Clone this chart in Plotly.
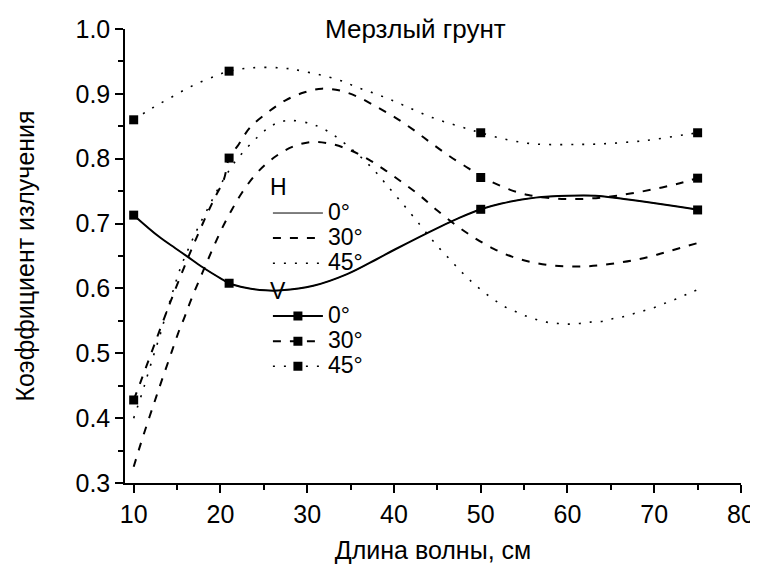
import plotly.graph_objects as go

title_text = "Мерзлый грунт"
x_label = "Длина волны, см"
y_label = "Коэффициент излучения"
x_ticks = [10, 20, 30, 40, 50, 60, 70, 80]
y_ticks = [0.3, 0.4, 0.5, 0.6, 0.7, 0.8, 0.9, 1.0]

# measured points (markers)
x_pts = [10, 21, 50, 75]
v0_pts = [0.713, 0.608, 0.722, 0.721]
v30_pts = [0.428, 0.801, 0.771, 0.770]
v45_pts = [0.860, 0.935, 0.840, 0.840]

# smooth curves, values
x_v0 = [10, 12.9, 14.8, 16.2, 17.9, 20.2, 21, 22.9, 25.2, 27, 30.7, 34.6, 38, 40.1,
        45.3, 47.4, 50, 52.4, 56.3, 60.1, 63.2, 66.5, 70.3, 73.8, 75]
y_v0 = [0.713, 0.680, 0.662, 0.649, 0.633, 0.614, 0.608, 0.601, 0.597, 0.597, 0.604,
        0.622, 0.645, 0.660, 0.695, 0.708, 0.722, 0.731, 0.740, 0.743, 0.743, 0.738,
        0.731, 0.724, 0.721]

x_v30 = [10, 10.8, 12.1, 12.9, 14.2, 15.2, 16.5, 17.5, 18.5, 19.4, 20.4, 21, 22.1, 23.4,
         25.6, 27.5, 29.6, 31.7, 33.8, 35.9, 38, 40.2, 42.3, 44.4, 46.5, 48.6, 50, 51.3,
         53.4, 55.5, 57.4, 59.5, 61.7, 63.8, 65.7, 68, 70.3, 72.6, 75]
y_v30 = [0.428, 0.456, 0.503, 0.532, 0.578, 0.612, 0.655, 0.686, 0.716, 0.741, 0.768,
         0.801, 0.822, 0.848, 0.873, 0.890, 0.902, 0.908, 0.905, 0.895, 0.880, 0.863,
         0.844, 0.823, 0.803, 0.785, 0.772, 0.764, 0.752, 0.744, 0.740, 0.738, 0.738,
         0.740, 0.743, 0.748, 0.754, 0.761, 0.770]

x_v45 = [10, 12, 14.5, 17, 19.5, 21, 23.5, 27, 29.5, 33.5, 36, 38.5, 41, 44.5, 48.5, 50,
         52.5, 56, 61, 64, 69, 73.5, 75]
y_v45 = [0.860, 0.877, 0.896, 0.914, 0.928, 0.935, 0.940, 0.940, 0.935, 0.922, 0.909,
         0.897, 0.883, 0.863, 0.846, 0.840, 0.831, 0.823, 0.822, 0.823, 0.828, 0.837, 0.840]

x_h30 = [10, 10.8, 11.5, 12.3, 12.9, 13.7, 14.4, 15.1, 15.9, 16.6, 17.5, 18.3, 19.2, 20.2,
         21.3, 22.5, 24.2, 26.3, 28.4, 30.6, 32.7, 34.8, 36.9, 38.8, 40.9, 43, 45, 47.4,
         49.4, 51.5, 53.6, 55.7, 57.8, 59.9, 62, 64, 66.1, 68.2, 70.3, 72.4, 75]
y_h30 = [0.325, 0.360, 0.389, 0.421, 0.445, 0.476, 0.503, 0.530, 0.557, 0.582, 0.611,
         0.636, 0.664, 0.693, 0.721, 0.748, 0.778, 0.803, 0.819, 0.826, 0.823, 0.814,
         0.800, 0.784, 0.764, 0.743, 0.720, 0.695, 0.677, 0.661, 0.649, 0.641, 0.636,
         0.634, 0.634, 0.636, 0.640, 0.645, 0.652, 0.660, 0.670]

x_h45 = [10, 11, 11.5, 12.3, 13.1, 13.8, 14.6, 15.4, 16.5, 17.5, 18.5, 19.5, 20.5, 21.5,
         23, 24.4, 25.6, 26.7, 28.1, 30.4, 31.7, 33, 35.3, 36.7, 37.8, 39.2, 41.1, 43,
         44.2, 45.3, 46.5, 47.6, 48.9, 50.1, 51.4, 52.6, 53.9, 55.1, 56.4, 57.6, 58.9,
         60.1, 61.4, 62.6, 63.9, 65.1, 66.3, 67.6, 68.9, 70.1, 71.4, 72.6, 73.9, 75]
y_h45 = [0.400, 0.440, 0.462, 0.497, 0.531, 0.564, 0.599, 0.632, 0.667, 0.696, 0.722,
         0.748, 0.771, 0.792, 0.816, 0.835, 0.848, 0.856, 0.859, 0.854, 0.847, 0.837,
         0.813, 0.796, 0.781, 0.759, 0.729, 0.698, 0.678, 0.661, 0.644, 0.628, 0.611,
         0.597, 0.584, 0.573, 0.565, 0.558, 0.552, 0.548, 0.546, 0.545, 0.546, 0.548,
         0.549, 0.553, 0.556, 0.561, 0.566, 0.571, 0.578, 0.584, 0.592, 0.598]

legend_names = ["0°", "30°", "45°"]

FONT = "Liberation Sans, Arial, sans-serif"
BLACK = "#000000"
DASH = "8px,9px"
DOT = "2px,9px"


def lbl(t):
    return '<span style="font-size:23px">' + t + '</span>'


fig = go.Figure()

# H curves
fig.add_trace(go.Scatter(x=x_v0, y=y_v0, mode="lines", name=lbl(legend_names[0]),
                         line=dict(color=BLACK, width=1, shape="spline"), legend="legend"))
fig.add_trace(go.Scatter(x=x_h30, y=y_h30, mode="lines", name=lbl(legend_names[1]),
                         line=dict(color=BLACK, width=2, dash=DASH, shape="spline"), legend="legend"))
fig.add_trace(go.Scatter(x=x_h45, y=y_h45, mode="lines", name=lbl(legend_names[2]),
                         line=dict(color=BLACK, width=1.6, dash=DOT, shape="spline"), legend="legend"))

# V curves
fig.add_trace(go.Scatter(x=x_v0, y=y_v0, mode="lines", showlegend=False,
                         line=dict(color=BLACK, width=2, shape="spline")))
fig.add_trace(go.Scatter(x=x_v30, y=y_v30, mode="lines", showlegend=False,
                         line=dict(color=BLACK, width=2, dash=DASH, shape="spline")))
fig.add_trace(go.Scatter(x=x_v45, y=y_v45, mode="lines", showlegend=False,
                         line=dict(color=BLACK, width=1.6, dash=DOT, shape="spline")))

# V markers
for ys in (v0_pts, v30_pts, v45_pts):
    fig.add_trace(go.Scatter(x=x_pts, y=ys, mode="markers", showlegend=False,
                             marker=dict(symbol="square", size=9, color=BLACK)))

# V legend entries
for nm, dash, w in zip(legend_names, ["solid", DASH, DOT], [2, 2, 1.6]):
    fig.add_trace(go.Scatter(x=[None], y=[None], mode="lines+markers", name=lbl(nm),
                             line=dict(color=BLACK, width=w, dash=dash),
                             marker=dict(symbol="square", size=9, color=BLACK),
                             legend="legend2"))

fig.add_annotation(text=title_text, xref="paper", yref="paper", x=0.4716, y=1.0,
                   xanchor="center", yanchor="middle", showarrow=False,
                   font=dict(size=26, color=BLACK, family=FONT))

axis_common = dict(showline=True, linecolor=BLACK, linewidth=1.5, ticks="outside",
                   ticklen=8, tickwidth=1.5, tickcolor=BLACK, showgrid=False, zeroline=False,
                   tickfont=dict(size=25, color=BLACK, family=FONT), mirror=False,
                   automargin=False)

# the page body adds an 8px offset, so the figure is sized 8px smaller
fig.update_layout(
    width=750, height=559,
    margin=dict(l=117, r=17, t=21, b=84),
    paper_bgcolor="white", plot_bgcolor="white",
    font=dict(family=FONT, color=BLACK),
    xaxis=dict(range=[9, 80], tickvals=x_ticks, ticktext=[str(v) for v in x_ticks],
               minor=dict(dtick=5, tick0=0, ticks="outside", ticklen=5, tickwidth=1.5, tickcolor=BLACK),
               title=dict(text=x_label, font=dict(size=25, color=BLACK, family=FONT), standoff=15),
               **axis_common),
    yaxis=dict(range=[0.3, 1.0], tickvals=y_ticks, ticktext=["%.1f" % v for v in y_ticks],
               minor=dict(dtick=0.05, tick0=0, ticks="outside", ticklen=5, tickwidth=1.5, tickcolor=BLACK),
               title=dict(text=y_label, font=dict(size=25, color=BLACK, family=FONT), standoff=34),
               **axis_common),
    legend=dict(title=dict(text=lbl("H"), font=dict(size=17, family=FONT, color=BLACK)),
                x=0.232, y=0.682, xanchor="left", yanchor="top",
                bgcolor="rgba(0,0,0,0)", borderwidth=0, itemwidth=50,
                font=dict(size=17, family=FONT, color=BLACK), tracegroupgap=0),
    legend2=dict(title=dict(text=lbl("V"), font=dict(size=17, family=FONT, color=BLACK)),
                 x=0.232, y=0.455, xanchor="left", yanchor="top",
                 bgcolor="rgba(0,0,0,0)", borderwidth=0, itemwidth=50,
                 font=dict(size=17, family=FONT, color=BLACK), tracegroupgap=0),
)

fig.write_html("out.html")
